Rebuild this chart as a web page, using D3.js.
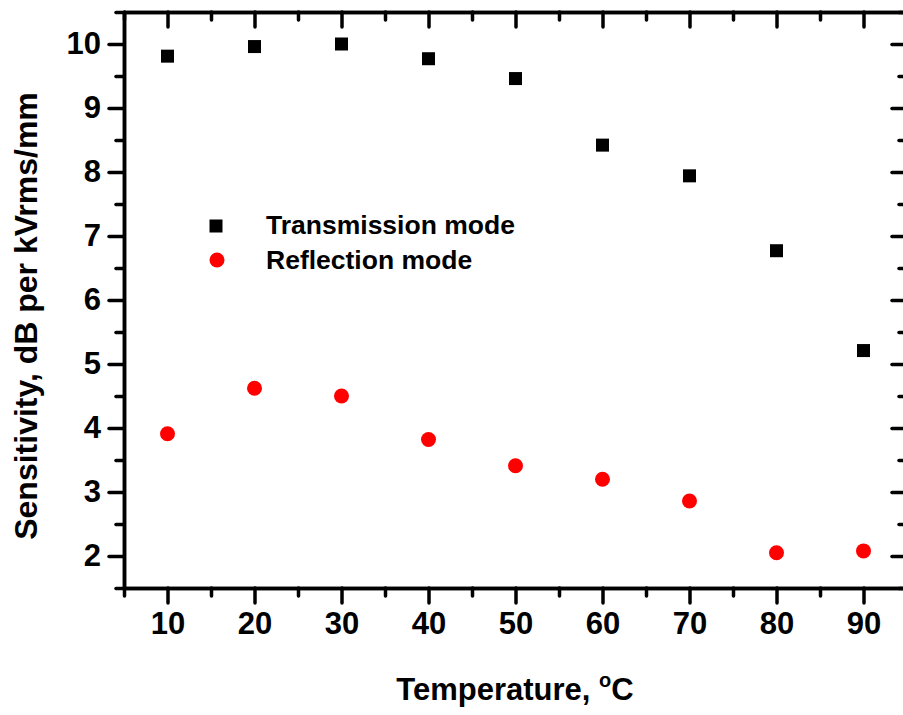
<!DOCTYPE html>
<html>
<head>
<meta charset="utf-8">
<script src="https://cdn.jsdelivr.net/npm/d3@7"></script>
<style>
  body { margin: 0; background: #fff; }
  svg { font-family: "Liberation Sans", Arial, sans-serif; font-weight: bold; }
</style>
</head>
<body>
<svg width="903" height="715"></svg>
<script>
const temperature = [10, 20, 30, 40, 50, 60, 70, 80, 90]
const transmission = [9.81, 9.96, 10.0, 9.77, 9.46, 8.42, 7.94, 6.77, 5.21]
const reflection = [3.91, 4.62, 4.5, 3.82, 3.41, 3.2, 2.86, 2.05, 2.08]
const xTicks = [10, 20, 30, 40, 50, 60, 70, 80, 90]
const xMinor = [5, 15, 25, 35, 45, 55, 65, 75, 85, 95]
const yTicks = [2, 3, 4, 5, 6, 7, 8, 9, 10]
const yMinor = [1.5, 2.5, 3.5, 4.5, 5.5, 6.5, 7.5, 8.5, 9.5, 10.5]

const svg = d3.select("svg")

const xScale = d3.scaleLinear().domain([5, 95]).range([124, 907])
const yScale = d3.scaleLinear().domain([1.5, 10.5]).range([588, 12])

const MAJOR = 15
const MINOR = 8

function addAxis(axis, transform) {
    const g = svg.append("g").attr("class", "axis").attr("transform", transform).call(axis)
    g.selectAll("path, line")
        .style("stroke", "#000")
        .style("stroke-width", "3.5px")
        .style("stroke-linecap", "round")
    g.selectAll("text")
        .style("font-family", "'Liberation Sans', Arial, sans-serif")
        .style("font-weight", "bold")
        .style("font-size", "31px")
        .style("fill", "#000")
    return g
}

// bottom axis
addAxis(d3.axisBottom(xScale).tickValues(xTicks).tickSize(MAJOR).tickSizeOuter(0).tickPadding(9), "translate(0,588)")
addAxis(d3.axisBottom(xScale).tickValues(xMinor).tickSize(MINOR).tickSizeOuter(0).tickFormat(""), "translate(0,588)")

// top axis, ticks inside
addAxis(d3.axisTop(xScale).tickValues(xTicks).tickSize(-MAJOR).tickSizeOuter(0).tickFormat(""), "translate(0,12)")
addAxis(d3.axisTop(xScale).tickValues(xMinor).tickSize(-MINOR).tickSizeOuter(0).tickFormat(""), "translate(0,12)")

// left axis
addAxis(d3.axisLeft(yScale).tickValues(yTicks).tickSize(MAJOR).tickSizeOuter(0).tickPadding(8), "translate(124,0)")
addAxis(d3.axisLeft(yScale).tickValues(yMinor).tickSize(MINOR).tickSizeOuter(0).tickFormat(""), "translate(124,0)")

// right axis, ticks inside
addAxis(d3.axisRight(yScale).tickValues(yTicks).tickSize(-MAJOR).tickSizeOuter(0).tickFormat(""), "translate(907,0)")
addAxis(d3.axisRight(yScale).tickValues(yMinor).tickSize(-MINOR).tickSizeOuter(0).tickFormat(""), "translate(907,0)")

// transmission squares
svg.selectAll("rect.trans")
    .data(temperature)
    .enter()
    .append("rect")
    .attr("class", "trans")
    .attr("x", d => xScale(d) - 6.5)
    .attr("y", (d, i) => yScale(transmission[i]) - 6.5)
    .attr("width", 13)
    .attr("height", 13)
    .style("fill", "#000")

// reflection circles
svg.selectAll("circle.refl")
    .data(temperature)
    .enter()
    .append("circle")
    .attr("class", "refl")
    .attr("cx", d => xScale(d))
    .attr("cy", (d, i) => yScale(reflection[i]))
    .attr("r", 7.5)
    .style("fill", "#ff0000")

// legend
const legend = svg.append("g").attr("transform", "translate(216,226)")
legend.append("rect").attr("x", -6.5).attr("y", -6.5).attr("width", 13).attr("height", 13).style("fill", "#000")
legend.append("circle").attr("cx", 1).attr("cy", 34).attr("r", 7.5).style("fill", "#ff0000")
legend.append("text").attr("x", 50).attr("y", 8).style("font-size", "26.5px").text("Transmission mode")
legend.append("text").attr("x", 50).attr("y", 43).style("font-size", "26.5px").text("Reflection mode")

// x title
const xt = svg.append("text")
    .attr("x", 515)
    .attr("y", 700)
    .style("text-anchor", "middle")
    .style("font-size", "31px")
xt.append("tspan").text("Temperature, ")
xt.append("tspan").attr("dy", -13).style("font-size", "20px").text("o")
xt.append("tspan").attr("dy", 13).text("C")

// y title
svg.append("text")
    .attr("transform", "translate(37,316) rotate(-90)")
    .style("text-anchor", "middle")
    .style("font-size", "32px")
    .text("Sensitivity, dB per kVrms/mm")
</script>
</body>
</html>
